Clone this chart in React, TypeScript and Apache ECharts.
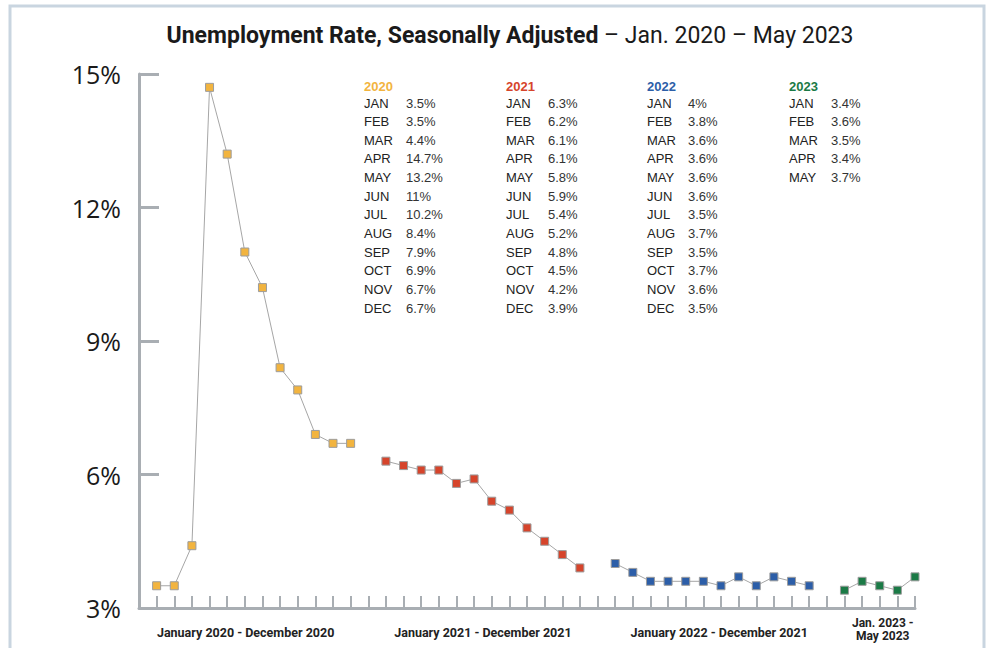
import React, { useEffect, useRef } from 'react';
import * as echarts from 'echarts';

const years = ['2020', '2021', '2022', '2023'];
const months = ['JAN', 'FEB', 'MAR', 'APR', 'MAY', 'JUN', 'JUL', 'AUG', 'SEP', 'OCT', 'NOV', 'DEC'];
const rates2020 = [3.5, 3.5, 4.4, 14.7, 13.2, 11, 10.2, 8.4, 7.9, 6.9, 6.7, 6.7];
const rates2021 = [6.3, 6.2, 6.1, 6.1, 5.8, 5.9, 5.4, 5.2, 4.8, 4.5, 4.2, 3.9];
const rates2022 = [4, 3.8, 3.6, 3.6, 3.6, 3.6, 3.5, 3.7, 3.5, 3.7, 3.6, 3.5];
const rates2023 = [3.4, 3.6, 3.5, 3.4, 3.7];
const yearColors = ['#f2b43f', '#d6442b', '#2c5ea8', '#1b7a46'];
const yMin = 3;
const yMax = 15;
const yInterval = 3;
const groupLabels = [
  'January 2020 - December 2020',
  'January 2021 - December 2021',
  'January 2022 - December 2021',
  'Jan. 2023 -\nMay 2023',
];
const titleBold = 'Unemployment Rate, Seasonally Adjusted';
const titleRest = ' – Jan. 2020 – May 2023';

const yearRates = [rates2020, rates2021, rates2022, rates2023];

function buildSlots() {
  const categories: string[] = ['start'];
  const seriesData: (number | null)[][] = yearRates.map(() => [null]);
  const ranges: [number, number][] = [];
  yearRates.forEach((rates, yi) => {
    if (yi > 0) {
      categories.push('gap' + yi);
      seriesData.forEach((d) => d.push(null));
    }
    const first = categories.length;
    rates.forEach((v, mi) => {
      categories.push(months[mi] + ' ' + years[yi]);
      seriesData.forEach((d, si) => d.push(si === yi ? v : null));
    });
    ranges.push([first, categories.length - 1]);
  });
  return { categories, seriesData, ranges };
}

const GRID = { left: 139, right: 75, top: 74, bottom: 40 };
const TABLE_X = [364, 506, 647, 789];
const TABLE_VAL_DX = [42, 42, 41, 42];
const TABLE_HEAD_Y = 86;
const TABLE_ROW0_Y = 103;
const TABLE_ROW_H = 18.65;
const GROUP_LABEL_DX = [-8, 0, 7, 3];

export default function App() {
  const ref = useRef<HTMLDivElement>(null);
  useEffect(() => {
    if (!ref.current) return;
    const chart = echarts.init(ref.current, null, { renderer: 'svg' });
    const { categories, seriesData, ranges } = buildSlots();
    const axisGray = '#a9aeb3';
    chart.setOption({
      animation: false,
      backgroundColor: '#ffffff',
      grid: { ...GRID, containLabel: false },
      xAxis: {
        type: 'category',
        data: categories,
        boundaryGap: false,
        axisLine: { show: true, lineStyle: { color: axisGray, width: 3 } },
        axisTick: { show: true, inside: true, length: 12, interval: 0, lineStyle: { color: axisGray, width: 2 } },
        axisLabel: { show: false },
        splitLine: { show: false },
      },
      yAxis: {
        type: 'value',
        min: yMin,
        max: yMax,
        interval: yInterval,
        axisLine: { show: true, lineStyle: { color: axisGray, width: 3 } },
        axisTick: { show: true, inside: true, length: 20, lineStyle: { color: axisGray, width: 3 } },
        splitLine: { show: false },
        axisLabel: {
          formatter: (v: number) => v + '%',
          color: '#1a1a1a',
          fontSize: 25,
          fontFamily: 'Open Sans',
          fontWeight: 'normal',
          margin: 18,
        },
      },
      series: seriesData.map((data, i) => ({
        type: 'line',
        name: years[i],
        data,
        connectNulls: false,
        symbol: 'rect',
        symbolSize: 8,
        showSymbol: true,
        lineStyle: { color: '#a6a6a6', width: 1 },
        itemStyle: { color: yearColors[i], borderColor: '#9c9c9c', borderWidth: 1 },
        emphasis: { disabled: true },
      })),
    });

    const graphics: any[] = [];
    graphics.push({
      type: 'rect',
      shape: { x: 10, y: 6, width: 974, height: 700 },
      style: { fill: 'none', stroke: '#c9d5e0', lineWidth: 3 },
      silent: true,
    });
    graphics.push({
      type: 'text',
      x: 510,
      y: 35,
      style: {
        text: '{b|' + titleBold + '}{r|' + titleRest + '}',
        align: 'center',
        verticalAlign: 'middle',
        rich: {
          b: { fontFamily: 'Roboto', fontWeight: 'bold', fontSize: 23, fill: '#1a1a1a' },
          r: { fontFamily: 'Roboto', fontWeight: 'normal', fontSize: 23, fill: '#1a1a1a' },
        },
      },
    });
    // table
    yearRates.forEach((rates, yi) => {
      const x = TABLE_X[yi];
      graphics.push({
        type: 'text',
        x,
        y: TABLE_HEAD_Y,
        style: {
          text: years[yi],
          fill: yearColors[yi],
          fontFamily: 'Liberation Sans',
          fontWeight: 'bold',
          fontSize: 13,
          verticalAlign: 'middle',
        },
      });
      rates.forEach((v, mi) => {
        const y = TABLE_ROW0_Y + mi * TABLE_ROW_H;
        graphics.push({
          type: 'text',
          x,
          y,
          style: { text: months[mi], fill: '#222', fontFamily: 'Liberation Sans', fontSize: 13, verticalAlign: 'middle' },
        });
        graphics.push({
          type: 'text',
          x: x + TABLE_VAL_DX[yi],
          y,
          style: { text: v + '%', fill: '#333', fontFamily: 'Liberation Sans', fontSize: 13, verticalAlign: 'middle' },
        });
      });
    });
    // group labels
    ranges.forEach(([a, b], i) => {
      const pa = chart.convertToPixel({ xAxisIndex: 0 }, a) as number;
      const pb = chart.convertToPixel({ xAxisIndex: 0 }, b) as number;
      const cx = (pa + pb) / 2 + GROUP_LABEL_DX[i];
      const multi = groupLabels[i].includes('\n');
      graphics.push({
        type: 'text',
        x: cx,
        y: multi ? 629 : 632,
        style: {
          text: groupLabels[i],
          align: 'center',
          verticalAlign: 'middle',
          fontFamily: 'Roboto',
          fontWeight: 'bold',
          fontSize: multi ? 12 : 12.5,
          lineHeight: 13,
          fill: '#222',
        },
      });
    });
    chart.setOption({ graphic: { elements: graphics } });

    return () => chart.dispose();
  }, []);
  return (
    <div
      ref={ref}
      style={{ position: 'fixed', left: 0, top: 0, width: 990, height: 648 }}
    />
  );
}
